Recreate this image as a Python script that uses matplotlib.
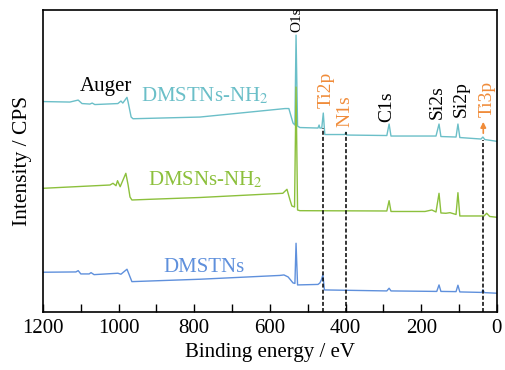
import matplotlib
matplotlib.use("Agg")
import matplotlib.pyplot as plt
from matplotlib.ticker import MultipleLocator

# Plot styling (Times-like)
plt.rcParams["font.family"] = "serif"
plt.rcParams["font.serif"] = ["Liberation Serif", "DejaVu Serif"]
plt.rcParams["mathtext.fontset"] = "stix"

# XPS survey spectra, binding energy (eV) vs intensity (arb. units)
be_tnh = [1200, 1129, 1107, 1097, 1076, 1070, 1063, 1002, 994, 989, 978, 975, 967, 962,
          785, 560, 550, 539, 534, 531, 527, 521, 473, 470, 468, 463, 459, 455,
          402, 399, 397, 291, 285, 280, 161, 153, 148, 108, 103, 98, 42, 37, 32, 0]
int_tnh = [210.5, 210, 212, 208.5, 208, 209, 207.5, 208.5, 211, 209, 214.7, 210, 195, 193.3,
           195, 203.5, 203.5, 189, 187, 277, 186, 184.5, 184, 187, 184, 184, 199, 177.5,
           177.5, 180, 177, 176.5, 188, 176, 176, 188, 175.5, 175, 188, 174.5, 173, 175, 172.5, 170.7]

be_snh = [1200, 1023, 1015, 1007, 1003, 996, 981, 975, 970, 965, 917, 785, 566, 555, 547, 542,
          535, 531, 527, 521, 291, 285, 280, 190, 172, 161, 153, 148, 135, 124, 108, 103, 98,
          34, 27, 19, 0]
int_snh = [123.7, 127, 128.7, 126.3, 131.3, 125.3, 138.7, 127, 115, 112, 112.7, 114.5, 118.7, 122.7, 112, 106,
           105, 225, 102, 101.3, 101, 111.3, 100.5, 100.5, 102, 100, 118.7, 99, 98.7, 99.3, 97.5, 119.3, 96,
           96, 98.7, 95.5, 94.7]

be_tn = [1200, 1113, 1107, 1100, 1078, 1073, 1065, 1002, 994, 978, 973, 965, 785, 574, 563, 552,
         539, 534, 531, 527, 473, 468, 464, 460, 456, 291, 285, 280, 159, 153, 148, 108, 103, 98,
         40, 37, 33, 0]
int_tn = [39.7, 40, 41.3, 38, 38, 39.3, 37.3, 38.7, 37.7, 42.7, 38, 30.3, 32.7, 36.5, 37, 35,
          29, 28.5, 68.7, 27, 27.5, 29, 32, 37, 22, 21, 23.7, 21, 20.5, 27, 20.5, 20.3, 26.7, 20,
          19.5, 22, 19.3, 18.7]

# peak assignments: name, binding energy
peak_names = ["O1s", "Ti2p", "N1s", "C1s", "Si2s", "Si2p", "Ti3p"]
peak_be = [531, 460, 399, 285, 153, 103, 36]
ti_n_peaks = ["Ti2p", "N1s", "Ti3p"]

c_tnh = "#6bbfc8"
c_snh = "#8cc03c"
c_tn = "#5f90dc"
c_orange = "#f08c3a"

fig = plt.figure(figsize=(5.06, 3.70), dpi=100)
ax = fig.add_axes([0.085, 0.157, 0.897, 0.817])

ax.plot(be_tnh, int_tnh, color=c_tnh, lw=1.0)
ax.plot(be_snh, int_snh, color=c_snh, lw=1.0)
ax.plot(be_tn, int_tn, color=c_tn, lw=1.0)

# dashed guide lines for Ti2p, N1s, Ti3p
dash_top = {"Ti2p": 184, "N1s": 180, "Ti3p": 172}
for name in ti_n_peaks:
    e = peak_be[peak_names.index(name)]
    ax.plot([e, e], [0, dash_top[name]], color="black", lw=1.1, ls=(0, (2.6, 1.4)))

ax.annotate("", xy=(36, 193), xytext=(36, 176),
            arrowprops=dict(arrowstyle="-|>", color=c_orange, lw=1.2, mutation_scale=8))

# peak labels
label_pos = {"O1s": (529, 292), "Ti2p": (452, 222), "N1s": (402, 200.5), "C1s": (291, 205.5),
             "Si2s": (159, 209.5), "Si2p": (95, 213), "Ti3p": (26, 213)}
for name in peak_names:
    x, y = label_pos[name]
    col = c_orange if name in ti_n_peaks else "black"
    fs = 11 if name == "O1s" else 14
    ax.text(x, y, name, rotation=90, ha="center", va="center", color=col, fontsize=fs)

ax.text(1033, 226, "Auger", ha="center", va="center", fontsize=15)
ax.text(941, 210.3, r"DMSTNs-NH$_2$", ha="left", va="baseline", color=c_tnh, fontsize=15)
ax.text(922, 127, r"DMSNs-NH$_2$", ha="left", va="baseline", color=c_snh, fontsize=15)
ax.text(883, 40.3, "DMSTNs", ha="left", va="baseline", color=c_tn, fontsize=15)

ax.set_xlim(1200, 0)
ax.set_ylim(0, 302.5)
ax.xaxis.set_major_locator(MultipleLocator(200))
ax.xaxis.set_minor_locator(MultipleLocator(100))
ax.tick_params(axis="x", which="both", direction="in", length=5.5, width=1.0,
               labelsize=15, pad=5, top=False)
ax.set_yticks([])
for sp in ax.spines.values():
    sp.set_linewidth(1.2)

ax.set_xlabel("Binding energy / eV", fontsize=15, labelpad=4)
ax.set_ylabel("Intensity / CPS", fontsize=15.5, labelpad=8)

fig.savefig("out.png", dpi=100)
